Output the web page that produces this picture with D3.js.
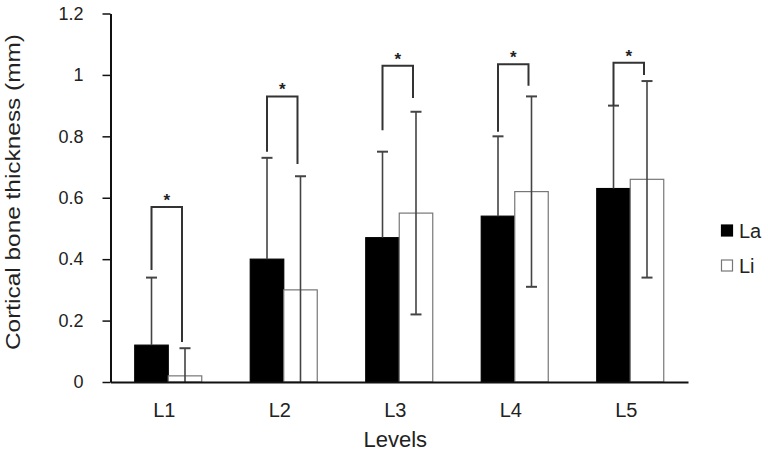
<!DOCTYPE html>
<html>
<head>
<meta charset="utf-8">
<script src="https://cdn.jsdelivr.net/npm/d3@7"></script>
<style>
  html, body { margin: 0; padding: 0; background: #fff; }
  svg { display: block; font-family: "Liberation Sans", Arial, sans-serif; }
</style>
</head>
<body>
<svg id="chart" width="768" height="456"></svg>
<script>
// ---- data ----
const levels = ["L1", "L2", "L3", "L4", "L5"];
const seriesNames = ["La", "Li"];
const laMean = [0.12, 0.40, 0.47, 0.54, 0.63];
const laSD   = [0.22, 0.33, 0.28, 0.26, 0.27];
const liMean = [0.02, 0.30, 0.55, 0.62, 0.66];
const liSD   = [0.09, 0.37, 0.33, 0.31, 0.32];
// significance brackets (data units): top of bracket, end of left leg, end of right leg
const brTop   = [0.57, 0.93, 1.03, 1.035, 1.04];
const brLeft  = [0.365, 0.75, 0.82, 0.815, 0.90];
const brRight = [0.13, 0.71, 0.925, 0.965, 1.0];
const yTicks = [0, 0.2, 0.4, 0.6, 0.8, 1, 1.2];

// ---- layout ----
const svg = d3.select("#chart");
const x0 = 110.5, x1 = 688, yBottom = 382, yTop = 13.5;
const x = d3.scaleBand().domain(levels).range([x0, x1]).padding(0);
const y = d3.scaleLinear().domain([0, 1.2]).range([yBottom, yTop]);
const step = x.bandwidth();
const bw = step * 0.29;
const xs = d3.scaleBand().domain(seriesNames).range([step / 2 - bw, step / 2 + bw]).padding(0);
const textColor = "#222";

const rows = levels.map((l, i) => ({
  level: l,
  vals: [
    { s: "La", m: laMean[i], sd: laSD[i] },
    { s: "Li", m: liMean[i], sd: liSD[i] }
  ],
  top: brTop[i], left: brLeft[i], right: brRight[i]
}));

// bars
const g = svg.append("g");
const groups = g.selectAll("g.grp").data(rows).join("g")
  .attr("class", "grp")
  .attr("transform", d => `translate(${x(d.level)},0)`);

groups.selectAll("rect").data(d => d.vals).join("rect")
  .attr("x", d => xs(d.s))
  .attr("width", xs.bandwidth())
  .attr("y", d => y(d.m))
  .attr("height", d => y(0) - y(d.m))
  .attr("fill", d => d.s === "La" ? "#000" : "#fff")
  .attr("stroke", d => d.s === "La" ? "#000" : "#777")
  .attr("stroke-width", 1.2);

// error bars
const errColor = "#444";
groups.each(function(d) {
  const gg = d3.select(this);
  d.vals.forEach(v => {
    const cx = xs(v.s) + xs.bandwidth() / 2;
    const hi = v.m + v.sd;
    const lo = v.s === "La" ? v.m : Math.max(0, v.m - v.sd);
    gg.append("line")
      .attr("x1", cx).attr("x2", cx)
      .attr("y1", y(lo)).attr("y2", y(hi))
      .attr("stroke", errColor).attr("stroke-width", 1.6);
    gg.append("line")
      .attr("x1", cx - 5.5).attr("x2", cx + 5.5)
      .attr("y1", y(hi)).attr("y2", y(hi))
      .attr("stroke", errColor).attr("stroke-width", 2);
    if (v.s === "Li" && v.m - v.sd > 0) {
      gg.append("line")
        .attr("x1", cx - 5.5).attr("x2", cx + 5.5)
        .attr("y1", y(lo)).attr("y2", y(lo))
        .attr("stroke", errColor).attr("stroke-width", 2);
    }
  });
  // bracket
  const lx = xs("La") + xs.bandwidth() / 2;
  const rx = xs("Li") + xs.bandwidth() / 2 - 3;
  gg.append("path")
    .attr("d", `M${lx},${y(d.left)}V${y(d.top)}H${rx}V${y(d.right)}`)
    .attr("fill", "none")
    .attr("stroke", "#333").attr("stroke-width", 2);
  gg.append("text")
    .attr("x", (lx + rx) / 2)
    .attr("y", y(d.top) - 1)
    .attr("text-anchor", "middle")
    .attr("font-size", 17).attr("font-weight", "bold")
    .attr("fill", "#222")
    .text("*");
});

// y axis
const yAxis = svg.append("g")
  .attr("transform", `translate(${x0},0)`)
  .call(d3.axisLeft(y).tickValues(yTicks).tickFormat(d3.format("~g")).tickSize(8).tickSizeOuter(0).tickPadding(19));
yAxis.select(".domain").attr("stroke", "#111").attr("stroke-width", 2);
yAxis.selectAll(".tick line").attr("stroke", "#111").attr("stroke-width", 1.5);
yAxis.selectAll(".tick text").attr("fill", textColor).attr("font-size", 18)
  .attr("font-family", "'Liberation Sans', Arial, sans-serif");

// x axis
const xAxis = svg.append("g")
  .attr("transform", `translate(0,${yBottom})`)
  .call(d3.axisBottom(x).tickSize(0).tickPadding(21));
xAxis.select(".domain").attr("stroke", "#111").attr("stroke-width", 2);
xAxis.selectAll(".tick text").attr("fill", textColor).attr("font-size", 20)
  .attr("dx", -4)
  .attr("font-family", "'Liberation Sans', Arial, sans-serif");

// axis titles
svg.append("text")
  .attr("x", (x0 + x1) / 2 - 4).attr("y", 447)
  .attr("text-anchor", "middle")
  .attr("font-size", 22).attr("fill", textColor)
  .text("Levels");
svg.append("text")
  .attr("transform", `translate(20,${192}) rotate(-90)`)
  .attr("text-anchor", "middle")
  .attr("font-size", 21).attr("fill", textColor)
  .attr("textLength", 316).attr("lengthAdjust", "spacingAndGlyphs")
  .text("Cortical bone thickness (mm)");

// legend
const legend = svg.append("g").attr("transform", "translate(721,224)");
seriesNames.forEach((s, i) => {
  const lg = legend.append("g").attr("transform", `translate(0,${i * 35})`);
  lg.append("rect")
    .attr("x", 0.5).attr("y", 1).attr("width", 11).attr("height", 11)
    .attr("fill", s === "La" ? "#000" : "#fff")
    .attr("stroke", s === "La" ? "#000" : "#777").attr("stroke-width", 1.2);
  lg.append("text")
    .attr("x", 18).attr("y", 13.5)
    .attr("font-size", 20).attr("fill", textColor)
    .text(s);
});
</script>
</body>
</html>
